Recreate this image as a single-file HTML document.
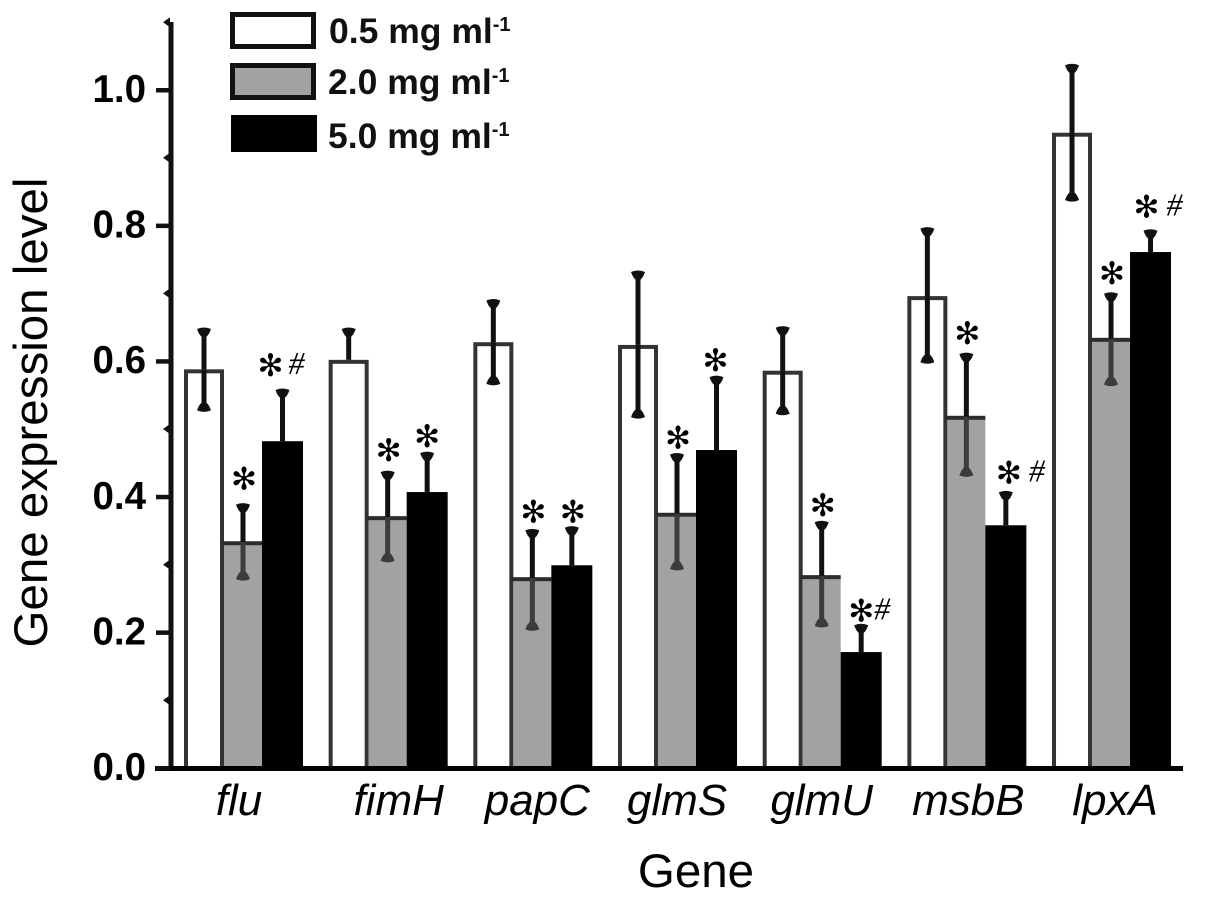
<!DOCTYPE html>
<html>
<head>
<meta charset="utf-8">
<title>Gene expression level</title>
<style>
html,body{margin:0;padding:0;background:#fff;}
svg{display:block;}
text{font-family:"Liberation Sans",sans-serif;fill:#000;}
.tick{font-weight:bold;font-size:38.5px;text-anchor:end;}
.leg{font-weight:bold;font-size:35.5px;fill:#111;}
.gene{font-style:italic;font-size:44px;text-anchor:middle;}
.title{font-size:47.5px;text-anchor:middle;}
.star{font-family:"DejaVu Sans",sans-serif;font-size:31px;text-anchor:middle;}
.hash{font-family:"Liberation Serif",serif;font-style:italic;font-size:32px;text-anchor:middle;}
</style>
</head>
<body>
<svg id="chart" xmlns="http://www.w3.org/2000/svg" width="1205" height="901" viewBox="0 0 1205 901">
  <g id="plot"></g>
  <g id="axes"></g>
  <g>
    <rect x="232.5" y="14.5" width="81" height="32" fill="#fff" stroke="#111" stroke-width="5"/>
    <text class="leg" x="329" y="43">0.5 mg ml<tspan font-size="20" dy="-12">-1</tspan></text>
    <rect x="232.5" y="65.5" width="81" height="32" fill="#a2a2a2" stroke="#111" stroke-width="5"/>
    <text class="leg" x="328" y="94">2.0 mg ml<tspan font-size="20" dy="-12">-1</tspan></text>
    <rect x="231" y="115" width="86" height="37" fill="#000"/>
    <text class="leg" x="328" y="148">5.0 mg ml<tspan font-size="20" dy="-12">-1</tspan></text>
  </g>
  <text class="title" transform="translate(47 412.5) rotate(-90)">Gene expression level</text>
  <text class="title" x="696" y="887">Gene</text>
</svg>
<script>
const genes = ['flu', 'fimH', 'papC', 'glmS', 'glmU', 'msbB', 'lpxA'];
const seriesNames = ['0.5 mg/ml', '2.0 mg/ml', '5.0 mg/ml'];
const values05 = [0.588, 0.602, 0.628, 0.624, 0.586, 0.696, 0.937];
const values20 = [0.333, 0.370, 0.280, 0.375, 0.283, 0.518, 0.633];
const values50 = [0.482, 0.407, 0.299, 0.469, 0.171, 0.358, 0.761];
const upper05 = [0.646, 0.646, 0.688, 0.730, 0.648, 0.794, 1.035];
const upper20 = [0.387, 0.435, 0.349, 0.461, 0.361, 0.609, 0.698];
const upper50 = [0.556, 0.463, 0.353, 0.575, 0.209, 0.405, 0.791];
const lower05 = [0.529, null, 0.568, 0.519, 0.524, 0.600, 0.839];
const lower20 = [0.280, 0.307, 0.206, 0.295, 0.211, 0.433, 0.567];
const lower50 = [null, null, null, null, null, null, null];
const marks20 = ['*', '*', '*', '*', '*', '*', '*'];
const marks50 = ['*#', '*', '*', '*', '*#', '*#', '*#'];
const yTicks = [0, 0.2, 0.4, 0.6, 0.8, 1.0];
const yMinorTicks = [0.1, 0.3, 0.5, 0.7, 0.9, 1.1];

const NS = 'http://www.w3.org/2000/svg';
const plot = document.getElementById('plot');
const axes = document.getElementById('axes');
const yScale = v => 768 - v * 678;
const xGroup = i => 184 + i * 144.67;
const slotStart = [0, 40, 78];
const slotWidth = [40, 38, 41];
/* hand-placement nudges for labels and annotations (layout, not data) */
const labelNudge = [-1, 70 - 56 + 0, 64 - 56 + 0, 59 - 56 - 0, 59 - 56 + 0, 61 - 56 - 0, 63 - 56 + 0];
const liftGray = [-8, -4, -1, 1, 1, -3, -3];
const liftBlack = [-7, 1, 2, 1, 3, -2, -6];
const starShift = [-12, 0, 1, -1, 0, 3, -4];
const hashShift = [14, 0, 0, 0, 21, 31, 24];

function make(parent, tag, attrs) {
  const el = document.createElementNS(NS, tag);
  for (const k in attrs) el.setAttribute(k, attrs[k]);
  parent.appendChild(el);
  return el;
}

function drawBar(i, s, v) {
  const x = xGroup(i) + slotStart[s];
  const w = slotWidth[s];
  const y = yScale(v);
  let el;
  if (s === 0) {
    el = make(plot, 'rect', {x: x + 2, y: y + 2, width: w - 4, height: 768 - y - 2, fill: '#fff', stroke: '#333', 'stroke-width': 4});
  } else if (s === 1) {
    el = make(plot, 'rect', {x: x, y: y, width: w, height: 768 - y, fill: '#a2a2a2'});
    const top = make(plot, 'rect', {x: x - 2, y: y - 1, width: w + 2, height: 4, fill: '#2c2c2c'});
    
    
  } else {
    el = make(plot, 'rect', {x: x, y: y, width: w, height: 768 - y, fill: '#000'});
  }
  
  
}

function drawError(i, s, v, hi, lo) {
  const cx = xGroup(i) + slotStart[s] + slotWidth[s] / 2;
  const yv = yScale(v);
  const yh = yScale(hi);
  const up = make(plot, 'line', {x1: cx, x2: cx, y1: yh, y2: yv, stroke: '#111', 'stroke-width': 5});
  
  
  const capUp = make(plot, 'path', {d: `M${cx - 7} ${yh - 1}Q${cx} ${yh - 4} ${cx + 7} ${yh - 1}Q${cx + 5} ${yh + 5} ${cx + 2} ${yh + 7}h-4Q${cx - 5} ${yh + 5} ${cx - 7} ${yh - 1}z`, fill: '#111'});
  
  
  if (lo !== null) {
    const yl = yScale(lo);
    const col = s === 1 ? '#3c3c3c' : '#111';
    const down = make(plot, 'line', {x1: cx, x2: cx, y1: yv, y2: yl, stroke: col, 'stroke-width': 5});
    
    
    const capLo = make(plot, 'path', {d: `M${cx - 7} ${yl + 1}Q${cx} ${yl + 4} ${cx + 7} ${yl + 1}Q${cx + 5} ${yl - 5} ${cx + 2} ${yl - 7}h-4Q${cx - 5} ${yl - 5} ${cx - 7} ${yl + 1}z`, fill: col});
    
    
  }
}

function drawMark(i, s, hi, mark, lift) {
  if (!mark) return;
  const cx = xGroup(i) + slotStart[s] + slotWidth[s] / 2;
  const y = yScale(hi) - 8 + lift;
  const hasHash = mark.indexOf('#') >= 0;
  const star = make(plot, 'text', {class: 'star', x: s === 2 ? cx + starShift[i] : cx + 1, y: y});
  
  
  star.textContent = '\u273B';
  if (hasHash) {
    const hash = make(plot, 'text', {class: 'hash', x: cx + hashShift[i], y: y - 2});
    
    
    hash.textContent = '#';
  }
}

genes.forEach((g, i) => {
  drawBar(i, 0, values05[i]);
  drawBar(i, 1, values20[i]);
  drawBar(i, 2, values50[i]);
  drawError(i, 0, values05[i], upper05[i], lower05[i]);
  drawError(i, 1, values20[i], upper20[i], lower20[i]);
  drawError(i, 2, values50[i], upper50[i], lower50[i]);
  drawMark(i, 1, upper20[i], marks20[i], liftGray[i]);
  drawMark(i, 2, upper50[i], marks50[i], liftBlack[i]);
  const label = make(axes, 'text', {class: 'gene', x: xGroup(i) + 56 + labelNudge[i], y: 815});
  
  
  label.textContent = g;
});

const yLine = make(axes, 'rect', {x: 168.5, y: 22, width: 5, height: 748, fill: '#111'});


const xLine = make(axes, 'rect', {x: 155, y: 766, width: 1028, height: 5, fill: '#000'});



yTicks.forEach(t => {
  const y = yScale(t);
  const tick = make(axes, 'rect', {x: 156, y: y - 2, width: 14, height: 4.5, fill: '#111'});
  
  
  const label = make(axes, 'text', {class: 'tick', x: 146, y: y + 12});
  
  
  label.textContent = t.toFixed(1);
});
yMinorTicks.forEach(t => {
  const y = yScale(t);
  const tick = make(axes, 'path', {d: `M170 ${y - 5}L163 ${y}L170 ${y + 5}z`, fill: '#111'});
  
  
});
</script>
</body>
</html>
